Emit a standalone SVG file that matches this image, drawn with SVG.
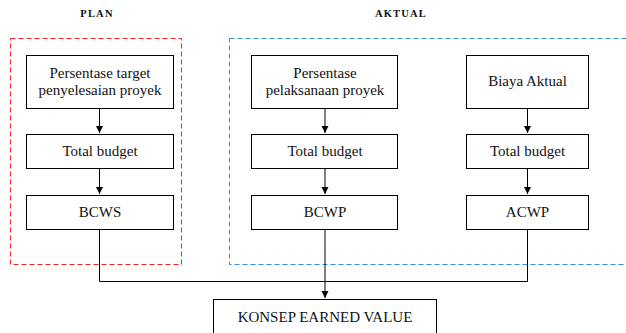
<svg xmlns="http://www.w3.org/2000/svg" width="626" height="333" viewBox="0 0 626 333">
<style>
.box{fill:#fff;stroke:#000;stroke-width:1}
.t{font-family:'Liberation Serif','DejaVu Serif',serif;font-size:15px;text-anchor:middle;fill:#111}
.h{font-family:'Liberation Serif','DejaVu Serif',serif;font-size:10.5px;font-weight:bold;text-anchor:middle;letter-spacing:1.2px;fill:#111}
.ln{fill:none;stroke:#000;stroke-width:1}
</style>
<defs>
<marker id="ar" markerWidth="8" markerHeight="8" refX="7" refY="4" orient="auto" markerUnits="userSpaceOnUse">
<path d="M0,0.5 L7,4 L0,7.5 Z" fill="#000"/>
</marker>
</defs>
<text class="h" x="97" y="17">PLAN</text>
<text class="h" x="401" y="17">AKTUAL</text>
<rect x="10.5" y="38.5" width="171" height="226" fill="none" stroke="#ff2020" stroke-width="1" stroke-dasharray="5,3"/>
<rect x="229.5" y="38.5" width="400" height="226" fill="none" stroke="#3a8fd8" stroke-width="1" stroke-dasharray="5,3"/>
<g id="connectors">
<path class="ln" d="M99.5,108 V133" marker-end="url(#ar)"/>
<path class="ln" d="M99.5,169 V194" marker-end="url(#ar)"/>
<path class="ln" d="M325,108 V133" marker-end="url(#ar)"/>
<path class="ln" d="M325,169 V194" marker-end="url(#ar)"/>
<path class="ln" d="M527.5,108 V133" marker-end="url(#ar)"/>
<path class="ln" d="M527.5,169 V194" marker-end="url(#ar)"/>
<path class="ln" d="M99.5,230 V281.5 H527.5 V230"/>
<path class="ln" d="M325,230 V298" marker-end="url(#ar)"/>
</g>
<g id="n1"><rect class="box" x="26.5" y="55.5" width="147" height="53"/><text class="t" x="100" y="78">Persentase target</text><text class="t" x="100" y="95">penyelesaian proyek</text></g>
<g id="n2"><rect class="box" x="26.5" y="134.5" width="147" height="34"/><text class="t" x="100" y="156">Total budget</text></g>
<g id="n3"><rect class="box" x="26.5" y="195.5" width="147" height="34"/><text class="t" x="100" y="217">BCWS</text></g>
<g id="n4"><rect class="box" x="251.5" y="55.5" width="146" height="53"/><text class="t" x="325" y="78">Persentase</text><text class="t" x="325" y="95">pelaksanaan proyek</text></g>
<g id="n5"><rect class="box" x="251.5" y="134.5" width="146" height="34"/><text class="t" x="325" y="156">Total budget</text></g>
<g id="n6"><rect class="box" x="251.5" y="195.5" width="146" height="34"/><text class="t" x="325" y="217">BCWP</text></g>
<g id="n7"><rect class="box" x="466.5" y="55.5" width="122" height="53"/><text class="t" x="527.5" y="86">Biaya Aktual</text></g>
<g id="n8"><rect class="box" x="466.5" y="134.5" width="122" height="34"/><text class="t" x="527.5" y="156">Total budget</text></g>
<g id="n9"><rect class="box" x="466.5" y="195.5" width="122" height="34"/><text class="t" x="527.5" y="217">ACWP</text></g>
<g id="n10"><rect class="box" x="213.5" y="299.5" width="223" height="34"/><text class="t" x="325" y="322">KONSEP EARNED VALUE</text></g>
</svg>
